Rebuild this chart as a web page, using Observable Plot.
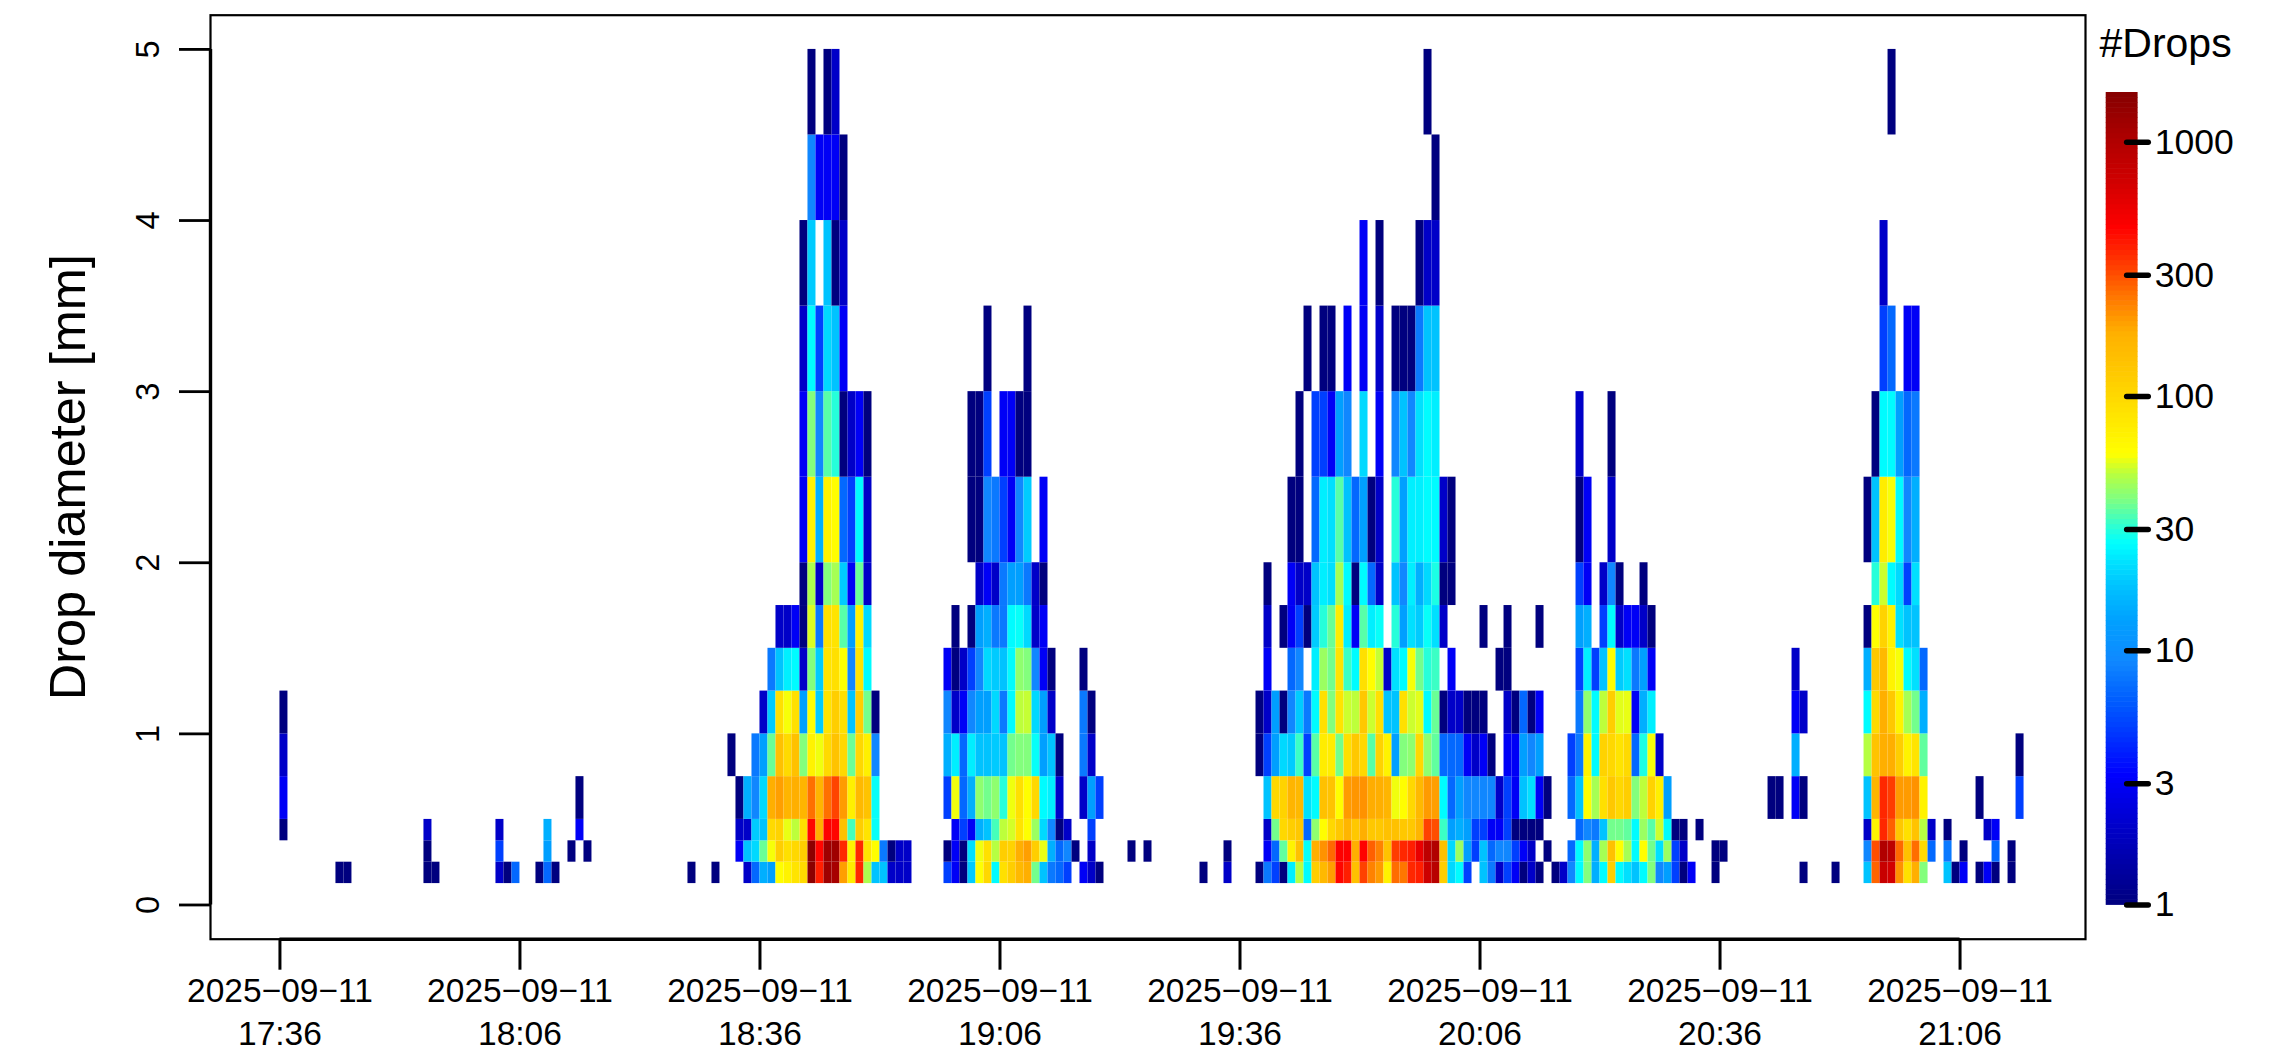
<!DOCTYPE html>
<html>
<head>
<meta charset="utf-8">
<style>
html,body{margin:0;padding:0;background:#fff;overflow:hidden;width:2279px;height:1050px}
#chart{position:absolute;left:0;top:0}
#bar{position:absolute;left:2090px;top:0}
svg{display:block}
</style>
<script src="https://cdn.jsdelivr.net/npm/d3@7"></script>
<script src="https://cdn.jsdelivr.net/npm/@observablehq/plot@0.6"></script>
</head>
<body>
<div id="chart"></div>
<div id="bar"></div>
<script>
// Diameter class edges [mm]
const diameterEdges = [0.125,0.25,0.375,0.5,0.75,1,1.25,1.5,1.75,2,2.5,3,3.5,4,4.5,5];
// Each row is one diameter class: pairs of [minutes after 17:36, number of drops]
const row0 = [[7,1],[8,1],[18,1],[19,1],[27,2],[28,1],[29,7],[32,1],[33,7],[34,1],[51,1],[54,1],[58,2],[59,7],[60,15],[61,13],[62,60],[63,70],[64,85],[65,97],[66,1450],[67,390],[68,1200],[69,1100],[70,195],[71,75],[72,370],[73,47],[74,18],[75,18],[76,2],[77,2],[78,2],[83,5],[84,3],[85,1],[86,19],[87,59],[88,100],[89,26],[90,90],[91,115],[92,155],[93,178],[94,38],[95,18],[96,8],[97,7],[98,5],[100,3],[101,2],[102,1],[115,1],[118,2],[122,1],[123,8],[124,5],[125,1],[126,24],[127,49],[128,26],[129,115],[130,155],[131,195],[132,450],[133,390],[134,140],[135,320],[136,230],[137,200],[138,70],[139,258],[140,245],[141,370],[142,390],[143,720],[144,920],[145,115],[146,21],[147,26],[148,5],[150,18],[151,8],[152,2],[153,5],[154,3],[155,1],[156,2],[157,1],[159,1],[160,2],[161,9],[162,26],[163,40],[164,15],[165,26],[166,115],[167,26],[168,22],[169,18],[170,26],[171,40],[172,9],[173,13],[174,5],[175,1],[176,3],[179,1],[190,1],[194,1],[198,18],[199,270],[200,760],[201,680],[202,210],[203,90],[204,178],[205,40],[208,18],[209,1],[210,3],[212,1],[213,3],[214,1],[216,1]];
const row1 = [[18,1],[27,5],[33,13],[36,1],[38,1],[57,3],[58,18],[59,21],[60,37],[61,58],[62,115],[63,90],[64,100],[65,115],[66,1450],[67,450],[68,1200],[69,1200],[70,370],[71,70],[72,370],[73,85],[74,60],[75,8],[76,1],[77,2],[78,2],[83,1],[84,3],[85,1],[86,22],[87,57],[88,90],[89,49],[90,115],[91,108],[92,178],[93,195],[94,115],[95,56],[96,15],[97,7],[98,9],[99,1],[101,2],[106,1],[108,1],[118,1],[123,3],[124,7],[125,36],[126,70],[127,140],[128,27],[129,178],[130,210],[131,265],[132,470],[133,470],[134,178],[135,460],[136,275],[137,230],[138,135],[139,330],[140,370],[141,390],[142,560],[143,870],[144,1000],[145,140],[146,21],[147,44],[148,13],[149,5],[150,18],[151,7],[152,9],[153,9],[154,5],[155,3],[156,2],[158,1],[161,7],[162,26],[163,42],[164,15],[165,46],[166,140],[167,60],[168,46],[169,26],[170,60],[171,38],[172,22],[173,44],[174,5],[175,2],[179,1],[180,1],[198,9],[199,300],[200,1000],[201,870],[202,265],[203,140],[204,258],[205,97],[206,7],[208,8],[210,1],[214,7],[216,1]];
const row2 = [[0,1],[18,2],[27,2],[33,15],[37,3],[57,2],[58,2],[59,19],[60,18],[61,97],[62,108],[63,56],[64,50],[65,90],[66,450],[67,178],[68,470],[69,450],[70,140],[71,33],[72,115],[73,85],[74,27],[84,3],[85,5],[86,3],[87,15],[88,18],[89,33],[90,50],[91,53],[92,85],[93,59],[94,44],[95,21],[96,9],[97,1],[98,2],[101,5],[123,2],[124,38],[125,100],[126,115],[127,125],[128,7],[129,42],[130,60],[131,100],[132,125],[133,165],[134,125],[135,178],[136,125],[137,125],[138,140],[139,140],[140,125],[141,125],[142,165],[143,320],[144,300],[145,32],[146,13],[147,15],[148,13],[149,5],[150,5],[151,3],[152,3],[153,5],[154,1],[155,1],[156,1],[157,1],[162,7],[163,9],[164,8],[165,18],[166,38],[167,38],[168,36],[169,26],[170,44],[171,35],[172,52],[173,26],[174,1],[175,1],[177,1],[198,2],[199,70],[200,370],[201,275],[202,125],[203,90],[204,135],[205,49],[206,2],[208,1],[213,2],[214,3]];
const row3 = [[0,3],[37,1],[57,1],[58,15],[59,9],[60,21],[61,178],[62,195],[63,165],[64,178],[65,165],[66,254],[67,165],[68,254],[69,315],[70,200],[71,72],[72,155],[73,135],[74,27],[83,5],[84,57],[85,7],[86,15],[87,42],[88,38],[89,42],[90,30],[91,57],[92,90],[93,60],[94,100],[95,26],[96,24],[97,2],[100,2],[101,13],[102,5],[123,18],[124,100],[125,108],[126,165],[127,155],[128,22],[129,26],[130,140],[131,135],[132,60],[133,200],[134,205],[135,210],[136,180],[137,178],[138,165],[139,57],[140,60],[141,100],[142,155],[143,200],[144,195],[145,26],[146,7],[147,13],[148,9],[149,9],[150,9],[151,9],[152,2],[153,5],[154,3],[155,18],[156,22],[157,3],[158,1],[161,7],[162,18],[163,60],[164,46],[165,90],[166,125],[167,100],[168,115],[169,40],[170,50],[171,108],[172,72],[173,13],[186,1],[187,1],[189,3],[190,1],[198,18],[199,165],[200,370],[201,330],[202,200],[203,200],[204,210],[205,70],[212,1],[217,5]];
const row4 = [[0,2],[56,1],[59,8],[60,13],[61,37],[62,140],[63,97],[64,140],[65,40],[66,70],[67,57],[68,97],[69,135],[70,100],[71,37],[72,100],[73,72],[74,9],[83,15],[84,24],[85,7],[86,24],[87,18],[88,18],[89,19],[90,18],[91,38],[92,40],[93,40],[94,27],[95,13],[96,18],[97,1],[100,8],[101,2],[122,1],[123,5],[124,13],[125,21],[126,19],[127,32],[128,5],[129,35],[130,75],[131,75],[132,38],[133,90],[134,125],[135,100],[136,35],[137,108],[138,70],[139,13],[140,40],[141,42],[142,100],[143,42],[144,36],[145,7],[146,7],[147,7],[148,3],[149,2],[150,3],[151,1],[153,3],[154,3],[155,13],[156,9],[157,13],[161,5],[162,8],[163,70],[164,26],[165,108],[166,100],[167,85],[168,97],[169,7],[170,29],[171,58],[172,2],[189,15],[198,49],[199,135],[200,178],[201,178],[202,115],[203,70],[204,85],[205,36],[217,1]];
const row5 = [[0,1],[60,2],[61,19],[62,90],[63,58],[64,90],[65,13],[66,59],[67,19],[68,85],[69,115],[70,90],[71,18],[72,115],[73,38],[74,1],[83,9],[84,2],[85,3],[86,9],[87,13],[88,13],[89,21],[90,8],[91,26],[92,50],[93,51],[94,21],[95,13],[96,2],[100,8],[101,1],[122,1],[123,2],[124,13],[125,1],[126,9],[127,19],[128,8],[129,26],[130,90],[131,40],[132,85],[133,52],[134,50],[135,125],[136,52],[137,90],[138,18],[139,18],[140,90],[141,52],[142,55],[143,26],[144,37],[145,1],[146,2],[147,2],[148,1],[149,1],[150,1],[153,2],[154,1],[155,7],[156,1],[157,3],[162,8],[163,42],[164,26],[165,50],[166,115],[167,55],[168,56],[169,3],[170,15],[171,24],[189,3],[190,2],[198,26],[199,97],[200,178],[201,125],[202,70],[203,46],[204,38],[205,15]];
const row6 = [[61,8],[62,18],[63,24],[64,26],[65,2],[66,40],[67,19],[68,85],[69,90],[70,59],[71,9],[72,85],[73,26],[83,3],[84,1],[85,2],[86,5],[87,9],[88,21],[89,19],[90,18],[91,26],[92,42],[93,40],[94,9],[95,3],[96,1],[100,1],[123,3],[126,7],[127,9],[129,24],[130,44],[131,38],[132,85],[133,32],[134,26],[135,90],[136,60],[137,51],[138,2],[139,22],[140,26],[141,58],[142,38],[143,30],[144,32],[146,3],[152,1],[153,1],[162,5],[163,24],[164,5],[165,18],[166,60],[167,19],[168,22],[169,8],[170,13],[171,3],[189,2],[198,15],[199,125],[200,155],[201,70],[202,58],[203,26],[204,22],[205,7]];
const row7 = [[62,2],[63,2],[64,3],[65,1],[66,54],[67,8],[68,90],[69,85],[70,35],[71,13],[72,70],[73,21],[84,1],[86,1],[87,13],[88,15],[89,8],[90,8],[91,26],[92,27],[93,21],[94,2],[95,3],[123,2],[125,1],[126,3],[127,5],[128,1],[129,19],[130,30],[131,37],[132,75],[133,24],[134,3],[135,35],[136,24],[137,27],[139,30],[140,13],[141,22],[142,19],[143,27],[144,22],[145,2],[150,1],[153,1],[157,1],[162,13],[163,15],[165,5],[166,26],[167,2],[168,3],[169,3],[170,2],[171,1],[198,1],[199,60],[200,108],[201,70],[202,22],[203,18],[204,18]];
const row8 = [[65,1],[66,47],[67,2],[68,40],[69,46],[70,19],[71,3],[72,37],[73,2],[87,2],[88,3],[89,2],[90,8],[91,13],[92,13],[93,8],[94,2],[95,1],[123,1],[126,3],[127,2],[128,2],[129,18],[130,24],[131,22],[132,46],[133,26],[134,1],[135,26],[136,7],[137,2],[139,18],[140,9],[141,24],[142,15],[143,21],[144,29],[145,1],[146,1],[162,5],[163,3],[165,2],[166,9],[167,1],[170,1],[199,30],[200,52],[201,26],[202,21],[203,5],[204,22]];
const row9 = [[65,3],[66,70],[67,15],[68,70],[69,60],[70,7],[71,5],[72,26],[73,2],[86,1],[87,1],[88,9],[89,8],[90,5],[91,3],[92,9],[93,19],[95,3],[126,1],[127,1],[129,7],[130,24],[131,22],[132,35],[133,18],[134,7],[135,13],[136,1],[137,2],[139,30],[140,13],[141,24],[142,24],[143,26],[144,26],[145,2],[146,1],[162,1],[163,3],[166,2],[198,1],[199,18],[200,75],[201,58],[202,26],[203,9],[204,15]];
const row10 = [[65,3],[66,40],[67,9],[68,35],[69,30],[70,1],[71,2],[72,3],[73,1],[86,1],[87,1],[88,5],[90,3],[91,3],[92,1],[93,1],[127,1],[129,5],[130,5],[131,3],[132,13],[133,9],[135,21],[137,3],[139,9],[140,18],[141,9],[142,22],[143,26],[144,24],[162,2],[166,1],[199,1],[200,26],[201,26],[202,13],[203,7],[204,8]];
const row11 = [[65,2],[66,26],[67,5],[68,21],[69,18],[70,3],[88,1],[93,1],[128,1],[130,1],[131,1],[133,3],[135,3],[137,2],[139,1],[140,1],[141,1],[142,8],[143,18],[144,18],[200,5],[201,7],[203,3],[204,3]];
const row12 = [[65,1],[66,19],[68,18],[69,1],[70,2],[135,3],[137,1],[142,1],[143,2],[144,2],[200,2]];
const row13 = [[66,9],[67,3],[68,3],[69,3],[70,1],[144,1]];
const row14 = [[66,1],[68,1],[69,2],[143,1],[201,1]];
const rows = [row0,row1,row2,row3,row4,row5,row6,row7,row8,row9,row10,row11,row12,row13,row14];

// Axis ticks and labels
const tickMinutes = [0,30,60,90,120,150,180,210];
const tickDates = ["2025−09−11","2025−09−11","2025−09−11","2025−09−11","2025−09−11","2025−09−11","2025−09−11","2025−09−11"];
const tickTimes = ["17:36","18:06","18:36","19:06","19:36","20:06","20:36","21:06"];
const yTicks = [0,1,2,3,4,5];
const barTicks = [1,3,10,30,100,300,1000];
const maxDrops = 1565;
const xLimits = [-8.68,225.68];
const yLimits = [-0.2,5.2];

// Colour ramp: position along the log scale, colour
const rampPositions = [0,.094,.16,.22,.255,.30,.35,.39,.42,.445,.46,.50,.53,.555,.626,.704,.753,.785,.834,.89,.94,1];
const rampColors = ["#00007F","#0000C8","#0000FF","#0040FF","#0060FF","#1088FF","#00A0FF","#00C0FF","#00E0FF","#00FFFF","#20FFE0","#80FF80","#B8FF40","#FFFF00","#FFD800","#FFB000","#FF7000","#FF4000","#FF0000","#D00000","#B00000","#850000"];
const ramp = d3.scaleLinear().domain(rampPositions).range(rampColors).interpolate(d3.interpolateRgb);
const colorOptions = {type:"log", domain:[1,maxDrops], interpolate:(t)=>ramp(t)};

const FONT = '"Liberation Sans", Arial, Helvetica, sans-serif';
const time0 = Date.UTC(2025,8,11,17,36);
const time = (m) => new Date(time0 + m*60000);

const cells = rows.flatMap((row,i) => row.map(([m,n]) => ({
  t1: time(m), t2: time(m+1), d1: diameterEdges[i], d2: diameterEdges[i+1], n
})));
const tickTimesX = tickMinutes.map(time);

const chart = Plot.plot({
  width:2279, height:1050,
  marginLeft:210, marginRight:194, marginTop:14.7, marginBottom:111.3,
  style:{fontFamily:FONT, background:"#fff", color:"#000", overflow:"visible"},
  x:{type:"utc", domain:xLimits.map(time), label:null},
  y:{domain:yLimits, label:null},
  color:colorOptions,
  marks:[
    Plot.rect(cells,{x1:"t1",x2:"t2",y1:"d1",y2:"d2",fill:"n"}),
    Plot.frame({stroke:"#000",strokeWidth:2.2}),
    Plot.ruleY([yLimits[0]],{x1:tickTimesX[0],x2:tickTimesX[7],stroke:"#000",strokeWidth:3.4}),
    Plot.ruleX([time(xLimits[0])],{y1:yTicks[0],y2:yTicks[5],stroke:"#000",strokeWidth:3.4}),
    Plot.axisX({ticks:tickTimesX,anchor:"bottom",label:null,tickSize:31,strokeWidth:3,tickPadding:1,fontSize:33.5,lineHeight:1.28,
      tickFormat:(d,i)=>tickDates[i]+"\n"+tickTimes[i]}),
    Plot.axisY({ticks:yTicks,anchor:"left",label:null,tickSize:31,strokeWidth:2.8,tickPadding:21,fontSize:32.6,tickRotate:-90,tickFormat:(d)=>String(d)}),
    Plot.text(["Drop diameter [mm]"],{frameAnchor:"left",dx:-126,rotate:-90,fontSize:50.5,text:(d)=>d,fill:"#000",textAnchor:"middle",lineAnchor:"bottom"})
  ]
});
document.getElementById("chart").append(chart);

// Colour bar drawn through the same colour scale
const levels = d3.range(0,161).map((i)=>Math.pow(maxDrops,i/160));
const levelRects = levels.slice(0,-1).map((v,i)=>({lo:v,hi:levels[i+1],mid:Math.sqrt(v*levels[i+1])}));
const bar = Plot.plot({
  width:189, height:1050,
  marginLeft:16, marginRight:141.7, marginTop:92.3, marginBottom:145.4,
  style:{fontFamily:FONT, background:"transparent", color:"#000", overflow:"visible"},
  x:{domain:[0,1],axis:null},
  y:{type:"log",domain:[1,maxDrops],label:null},
  color:colorOptions,
  marks:[
    Plot.rect(levelRects,{x1:0,x2:1,y1:"lo",y2:"hi",fill:"mid",inset:-0.3}),
    Plot.ruleY(barTicks,{x1:0.66,x2:1.35,stroke:"#000",strokeWidth:5.5,strokeLinecap:"round"}),
    Plot.axisY({ticks:barTicks,anchor:"right",label:null,tickSize:0,tickPadding:17,fontSize:35.5,tickFormat:(d)=>String(d)}),
    Plot.text(["#Drops"],{frameAnchor:"top-left",dx:-7,dy:-65,fontSize:41,text:(d)=>d,fill:"#000",textAnchor:"start",lineAnchor:"top"})
  ]
});
document.getElementById("bar").append(bar);
</script>
</body>
</html>
